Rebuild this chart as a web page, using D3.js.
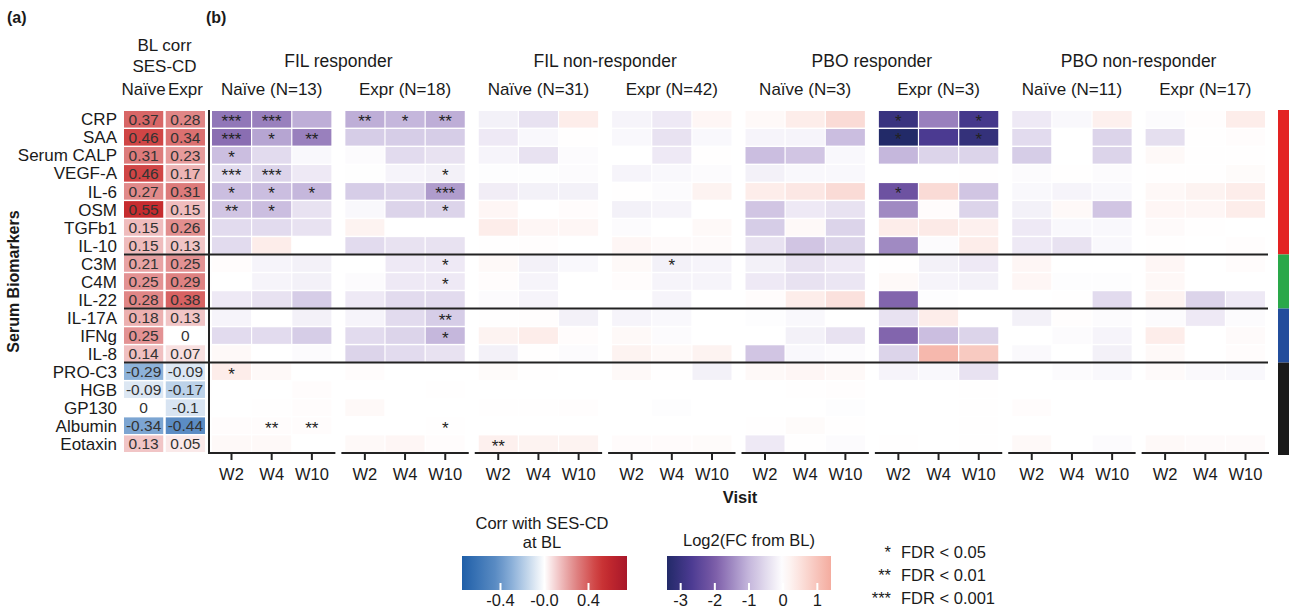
<!DOCTYPE html>
<html>
<head>
<meta charset="utf-8">
<script src="https://cdn.jsdelivr.net/npm/d3@7"></script>
<style>
  body { margin: 0; background: #fff; }
  text { font-family: "Liberation Sans", Arial, sans-serif; fill: #1a1a1a; }
</style>
</head>
<body>
<div id="chart"></div>
<script>
// ---- data ----
const biomarkers = ["CRP", "SAA", "Serum CALP", "VEGF-A", "IL-6", "OSM", "TGFb1", "IL-10",
  "C3M", "C4M", "IL-22", "IL-17A", "IFNg", "IL-8",
  "PRO-C3", "HGB", "GP130", "Albumin", "Eotaxin"]
const groupSizes = [8, 3, 3, 5]
const groupColors = ["#e32322", "#2aa84a", "#234d9c", "#1a1a1a"]

const corrNaive = [0.37, 0.46, 0.31, 0.46, 0.27, 0.55, 0.15, 0.15, 0.21, 0.25, 0.28, 0.18, 0.25, 0.14, -0.29, -0.09, 0, -0.34, 0.13]
const corrExpr = [0.28, 0.34, 0.23, 0.17, 0.31, 0.15, 0.26, 0.13, 0.25, 0.29, 0.38, 0.13, 0, 0.07, -0.09, -0.17, -0.1, -0.44, 0.05]

const visits = ["W2", "W4", "W10"]
const cohorts = ["FIL responder", "FIL non-responder", "PBO responder", "PBO non-responder"]
const subgroupLabels = ["Naïve (N=13)", "Expr (N=18)", "Naïve (N=31)", "Expr (N=42)",
  "Naïve (N=3)", "Expr (N=3)", "Naïve (N=11)", "Expr (N=17)"]

// log2 fold change from baseline, rows = biomarkers, cols = W2, W4, W10
const fcFilRespNaive = [[-1.7, -1.6, -1.1], [-1.8, -1.2, -1.6], [-0.9, -0.5, -0.1], [-0.5, -0.6, -0.3], [-0.9, -0.9, -1.0],
  [-0.8, -0.9, -0.4], [-0.5, -0.5, -0.4], [-0.5, 0.3, 0.0], [0.05, -0.15, -0.2], [0, -0.15, -0.2], [-0.3, -0.4, -0.7],
  [-0.15, 0, -0.2], [-0.5, -0.5, -0.7], [0.1, 0, -0.05], [0.3, 0.1, 0], [0, 0, 0.05], [0, 0.02, 0.05], [0.05, 0.05, 0.05], [0.1, 0.1, 0]]
const fcFilRespExpr = [[-1.1, -1.0, -1.1], [-0.7, -0.7, -0.7], [-0.05, -0.5, -0.4], [-0.02, -0.15, -0.2], [-0.7, -0.6, -1.3],
  [-0.1, -0.6, -0.6], [0.2, 0, 0], [-0.5, -0.4, -0.4], [0, -0.3, -0.3], [-0.05, -0.3, -0.3], [-0.3, -0.5, -0.5],
  [-0.15, -0.5, -0.7], [-0.5, -0.6, -1.0], [-0.6, -0.5, -0.4], [0.05, 0, 0], [0, 0, 0.02], [0.1, 0, 0], [0, 0, 0.02], [0.1, 0.15, 0.05]]
const fcFilNonNaive = [[-0.2, -0.4, 0.3], [-0.3, -0.1, 0.02], [-0.15, -0.4, -0.05], [-0.03, -0.03, -0.05], [-0.25, -0.2, -0.2],
  [0.15, 0, 0.05], [0.3, 0.15, 0.15], [0.02, 0.03, 0], [0.1, -0.2, -0.1], [0.05, -0.15, 0], [-0.05, -0.15, 0],
  [0.02, 0.03, -0.2], [0.2, 0.3, 0.05], [-0.2, 0.02, -0.05], [0.07, 0.02, 0], [0, 0, 0], [0.02, 0.02, 0.03], [0, 0, 0], [0.25, 0.2, 0.2]]
const fcFilNonExpr = [[-0.15, -0.3, 0.15], [-0.1, -0.4, -0.1], [0, -0.3, 0.02], [-0.15, -0.1, -0.05], [0.02, -0.05, 0.2],
  [-0.2, -0.15, 0], [-0.05, 0, 0.1], [0.15, 0.08, 0.08], [0.1, -0.2, -0.15], [0.05, -0.15, -0.15], [0, -0.15, 0],
  [-0.15, -0.1, 0], [0.1, -0.05, 0], [0.2, 0.1, 0.2], [0.1, 0.02, -0.2], [0, 0, 0], [0, -0.03, 0], [0, 0, 0], [0.06, 0.06, 0.07]]
const fcPboRespNaive = [[0.1, 0.3, 0.6], [-0.15, -0.15, -0.9], [-0.9, -0.8, -0.1], [-0.2, -0.1, -0.1], [0.3, 0.4, 0.6],
  [-0.8, -0.3, -0.4], [-0.7, 0.1, -0.6], [-0.4, -0.8, -0.6], [-0.2, -0.4, -0.3], [-0.3, -0.4, -0.35], [0.05, 0.3, 0.5],
  [-0.03, -0.1, 0], [0, -0.2, -0.4], [-0.8, -0.1, -0.05], [0.1, 0.15, 0.1], [0, 0.02, 0.03], [0, 0, -0.03], [0.02, 0.07, 0.02], [-0.3, 0.02, -0.05]]
const fcPboRespExpr = [[-3.0, -1.6, -2.8], [-3.4, -2.7, -3.1], [-1.0, -0.6, -0.6], [0, 0, 0.02], [-2.2, 0.6, -0.8],
  [-1.5, 0.05, -0.6], [0.3, 0.35, 0.25], [-1.5, -0.05, 0.3], [0.02, -0.2, -0.3], [0.1, -0.15, -0.2], [-1.9, -0.03, 0],
  [-0.4, 0.3, 0], [-1.9, -0.9, -0.6], [-0.6, 1.2, 0.9], [-0.15, -0.1, -0.4], [0, 0, 0.02], [0, 0, 0.02], [0, 0, 0.02], [0.02, 0, 0.02]]
const fcPboNonNaive = [[-0.3, -0.1, 0.25], [-0.5, 0, -0.6], [-0.7, 0, -0.6], [-0.05, 0.02, -0.05], [-0.1, -0.15, -0.1],
  [-0.2, 0.1, -0.8], [-0.3, -0.1, -0.1], [-0.3, -0.4, -0.1], [0.15, 0, 0], [0.15, -0.03, -0.03], [0, 0.02, -0.5],
  [-0.2, 0.03, -0.05], [0, -0.05, -0.15], [-0.08, 0, -0.2], [0, -0.05, -0.1], [0, 0, 0], [0.05, 0, 0], [0, 0, 0], [0.1, 0, -0.05]]
const fcPboNonExpr = [[-0.05, 0.03, 0.3], [-0.45, 0.02, 0.05], [0.1, 0.02, 0.02], [0.02, 0.02, 0.07], [0.12, 0.2, 0.3],
  [0.15, 0.15, 0.3], [0.08, 0.02, 0], [0.02, 0, 0.03], [0.15, 0, 0.05], [0.12, 0, 0], [0.2, -0.6, -0.3],
  [-0.05, -0.3, -0.05], [0.3, 0, 0.08], [0.1, 0, 0.05], [0.08, -0.08, -0.1], [0, 0, 0], [0, 0, 0], [0, 0, 0], [0.1, 0.08, 0.08]]

const panelValues = [fcFilRespNaive, fcFilRespExpr, fcFilNonNaive, fcFilNonExpr,
  fcPboRespNaive, fcPboRespExpr, fcPboNonNaive, fcPboNonExpr]

// significance: [panel index, biomarker, visit, number of stars]
const stars = [
  [0, "CRP", "W2", 3], [0, "CRP", "W4", 3], [0, "SAA", "W2", 3], [0, "SAA", "W4", 1], [0, "SAA", "W10", 2],
  [0, "Serum CALP", "W2", 1], [0, "VEGF-A", "W2", 3], [0, "VEGF-A", "W4", 3], [0, "IL-6", "W2", 1], [0, "IL-6", "W4", 1],
  [0, "IL-6", "W10", 1], [0, "OSM", "W2", 2], [0, "OSM", "W4", 1], [0, "PRO-C3", "W2", 1], [0, "Albumin", "W4", 2], [0, "Albumin", "W10", 2],
  [1, "CRP", "W2", 2], [1, "CRP", "W4", 1], [1, "CRP", "W10", 2], [1, "VEGF-A", "W10", 1], [1, "IL-6", "W10", 3],
  [1, "OSM", "W10", 1], [1, "C3M", "W10", 1], [1, "C4M", "W10", 1], [1, "IL-17A", "W10", 2], [1, "IFNg", "W10", 1], [1, "Albumin", "W10", 1],
  [2, "Eotaxin", "W2", 2],
  [3, "C3M", "W4", 1],
  [5, "CRP", "W2", 1], [5, "CRP", "W10", 1], [5, "SAA", "W2", 1], [5, "SAA", "W10", 1], [5, "IL-6", "W2", 1]
]

const corrTicks = [-0.4, 0, 0.4]
const corrTickLabels = ["-0.4", "-0.0", "0.4"]
const fcTicks = [-3, -2, -1, 0, 1]
const fdrLabels = [["*", "FDR < 0.05"], ["**", "FDR < 0.01"], ["***", "FDR < 0.001"]]

// ---- chart ----
const width = 1291
const height = 610
const svg = d3.select("#chart").append("svg")
  .attr("width", width)
  .attr("height", height)

const corrColor = d3.scaleLinear()
  .domain([-0.75, -0.44, -0.29, 0, 0.15, 0.28, 0.46, 0.55, 0.75])
  .range(["#1f5fa8", "#5b8cc4", "#8db2d9", "#ffffff", "#efbcbd", "#e08686", "#d04545", "#c62c2f", "#a8172a"])
const fcColor = d3.scaleLinear()
  .domain([-3.4, -2.7, -2, -1, 0, 1.4])
  .range(["#222a68", "#4b3a91", "#7b5ca8", "#c5b7dc", "#ffffff", "#f4ac9f"])
  .clamp(true)

const y = d3.scaleBand().domain(biomarkers).range([111, 452]).paddingInner(0.08)
const xCorr = d3.scaleBand().domain(["Naïve", "Expr"]).range([124, 205]).paddingInner(0.06)
const xPanel = d3.scaleBand().domain(d3.range(8)).range([212, 1265]).paddingInner(0.105)
const xVisit = d3.scaleBand().domain(visits).range([0, xPanel.bandwidth()]).paddingInner(0.03)

// labels (a), (b)
svg.append("text").text("(a)").attr("x", 7).attr("y", 23).style("font-size", "16px").style("font-weight", "bold")
svg.append("text").text("(b)").attr("x", 206).attr("y", 23).style("font-size", "16px").style("font-weight", "bold")

// left panel headers
const corrMid = (xCorr.range()[0] + xCorr.range()[1]) / 2
svg.append("text").text("BL corr").attr("x", corrMid).attr("y", 51).attr("text-anchor", "middle").style("font-size", "17px")
svg.append("text").text("SES-CD").attr("x", corrMid).attr("y", 72).attr("text-anchor", "middle").style("font-size", "17px")
xCorr.domain().forEach(d => {
  svg.append("text").text(d)
    .attr("x", xCorr(d) + xCorr.bandwidth() / 2).attr("y", 95)
    .attr("text-anchor", "middle").style("font-size", "17px")
})

// row labels
svg.append("g").selectAll("text").data(biomarkers).join("text")
  .text(d => d)
  .attr("x", 117)
  .attr("y", d => y(d) + y.bandwidth() / 2)
  .attr("dy", "0.36em")
  .attr("text-anchor", "end")
  .style("font-size", "17px")

svg.append("text").text("Serum Biomarkers")
  .attr("transform", "translate(19," + ((y.range()[0] + y.range()[1]) / 2) + ") rotate(-90)")
  .attr("text-anchor", "middle")
  .style("font-size", "16px").style("font-weight", "bold")

// correlation cells
const corrCells = []
biomarkers.forEach((b, i) => {
  corrCells.push({ b: b, col: "Naïve", v: corrNaive[i] })
  corrCells.push({ b: b, col: "Expr", v: corrExpr[i] })
})
const corrG = svg.append("g")
corrG.selectAll("rect").data(corrCells).join("rect")
  .attr("x", d => xCorr(d.col))
  .attr("y", d => y(d.b))
  .attr("width", xCorr.bandwidth())
  .attr("height", y.bandwidth())
  .attr("fill", d => corrColor(d.v))
corrG.selectAll("text").data(corrCells).join("text")
  .text(d => d.v)
  .attr("x", d => xCorr(d.col) + xCorr.bandwidth() / 2)
  .attr("y", d => y(d.b) + y.bandwidth() / 2)
  .attr("dy", "0.36em")
  .attr("text-anchor", "middle")
  .style("font-size", "15.5px")
  .style("fill", "#333")

// cohort titles
cohorts.forEach((c, i) => {
  const x0 = xPanel(i * 2)
  const x1 = xPanel(i * 2 + 1) + xPanel.bandwidth()
  svg.append("text").text(c).attr("x", (x0 + x1) / 2).attr("y", 67)
    .attr("text-anchor", "middle").style("font-size", "17.5px")
})

// heatmap panels
panelValues.forEach((vals, p) => {
  const g = svg.append("g").attr("transform", "translate(" + xPanel(p) + ",0)")
  g.append("text").text(subgroupLabels[p])
    .attr("x", xPanel.bandwidth() / 2).attr("y", 95)
    .attr("text-anchor", "middle").style("font-size", "17px")

  const cells = []
  biomarkers.forEach((b, i) => visits.forEach((v, j) => cells.push({ b: b, v: v, val: vals[i][j] })))
  g.selectAll("rect").data(cells).join("rect")
    .attr("x", d => xVisit(d.v))
    .attr("y", d => y(d.b))
    .attr("width", xVisit.bandwidth())
    .attr("height", y.bandwidth())
    .attr("fill", d => fcColor(d.val))

  g.selectAll("text.star").data(stars.filter(s => s[0] === p)).join("text")
    .attr("class", "star")
    .text(d => "*".repeat(d[3]))
    .attr("x", d => xVisit(d[2]) + xVisit.bandwidth() / 2)
    .attr("y", d => y(d[1]) + y.bandwidth() / 2 + 8)
    .attr("text-anchor", "middle")
    .style("font-size", "17px")
    .style("fill", "#222")

  const axis = d3.axisBottom(xVisit).tickSize(7).tickPadding(8).tickSizeOuter(0)
  const ag = g.append("g").attr("transform", "translate(0,453)").call(axis)
  ag.select(".domain").remove()
  ag.selectAll("line").attr("stroke", "#222").attr("stroke-width", 2)
  ag.selectAll("text").style("font-size", "16.5px").style("font-family", "'Liberation Sans', Arial, sans-serif").attr("fill", "#1a1a1a")
  g.append("line")
    .attr("x1", -4).attr("x2", xPanel.bandwidth() + 4)
    .attr("y1", 453).attr("y2", 453)
    .attr("stroke", "#222").attr("stroke-width", 2)
})

svg.append("text").text("Visit").attr("x", 740).attr("y", 503)
  .attr("text-anchor", "middle").style("font-size", "16.5px").style("font-weight", "bold")

// y axis line of the heatmap
svg.append("line").attr("x1", 209).attr("x2", 209).attr("y1", 110).attr("y2", 454)
  .attr("stroke", "#222").attr("stroke-width", 2)

// group separators and side colour bar
let start = 0
const gap = y.step() - y.bandwidth()
groupSizes.forEach((n, gi) => {
  const top = gi === 0 ? 110 : y(biomarkers[start]) - gap / 2
  const end = start + n - 1
  const bottom = gi === groupSizes.length - 1 ? 455 : y(biomarkers[end]) + y.bandwidth() + gap / 2
  svg.append("rect").attr("x", 1278).attr("y", top).attr("width", 11).attr("height", bottom - top)
    .attr("fill", groupColors[gi])
  if (gi > 0) {
    svg.append("line").attr("x1", 124).attr("x2", 1268).attr("y1", top).attr("y2", top)
      .attr("stroke", "#222").attr("stroke-width", 2)
  }
  start += n
})

// legends
const defs = svg.append("defs")
function gradient(id, scale, lo, hi) {
  const lg = defs.append("linearGradient").attr("id", id)
    .attr("x1", "0%").attr("x2", "100%").attr("y1", "0%").attr("y2", "0%")
  d3.range(0, 1.0001, 0.05).forEach(t => {
    lg.append("stop").attr("offset", (t * 100) + "%").attr("stop-color", scale(lo + t * (hi - lo)))
  })
}
gradient("corr-grad", corrColor, -0.75, 0.75)
gradient("fc-grad", fcColor, -3.4, 1.4)

const barTop = 556
const barH = 34

const corrX = d3.scaleLinear().domain([-0.75, 0.75]).range([462, 627])
svg.append("text").text("Corr with SES-CD").attr("x", 542).attr("y", 529)
  .attr("text-anchor", "middle").style("font-size", "16.5px")
svg.append("text").text("at BL").attr("x", 542).attr("y", 548)
  .attr("text-anchor", "middle").style("font-size", "16.5px")
svg.append("rect").attr("x", corrX(-0.75)).attr("y", barTop).attr("width", corrX(0.75) - corrX(-0.75)).attr("height", barH)
  .attr("fill", "url(#corr-grad)")
corrTicks.forEach((t, i) => {
  svg.append("line").attr("x1", corrX(t)).attr("x2", corrX(t)).attr("y1", barTop + barH - 7).attr("y2", barTop + barH)
    .attr("stroke", "#fff").attr("stroke-width", 2)
  svg.append("text").text(corrTickLabels[i]).attr("x", corrX(t)).attr("y", 606)
    .attr("text-anchor", "middle").style("font-size", "16.5px")
})

const fcX = d3.scaleLinear().domain([-3.4, 1.4]).range([667, 831])
svg.append("text").text("Log2(FC from BL)").attr("x", 749).attr("y", 546)
  .attr("text-anchor", "middle").style("font-size", "16.5px")
svg.append("rect").attr("x", fcX(-3.4)).attr("y", barTop).attr("width", fcX(1.4) - fcX(-3.4)).attr("height", barH)
  .attr("fill", "url(#fc-grad)")
fcTicks.forEach(t => {
  svg.append("line").attr("x1", fcX(t)).attr("x2", fcX(t)).attr("y1", barTop + barH - 7).attr("y2", barTop + barH)
    .attr("stroke", "#fff").attr("stroke-width", 2)
  svg.append("text").text(t).attr("x", fcX(t)).attr("y", 606)
    .attr("text-anchor", "middle").style("font-size", "16.5px")
})

fdrLabels.forEach((d, i) => {
  const yy = 558 + i * 23
  svg.append("text").text(d[0]).attr("x", 891).attr("y", yy).attr("text-anchor", "end").style("font-size", "16.5px")
  svg.append("text").text(d[1]).attr("x", 901).attr("y", yy).style("font-size", "16.5px")
})
</script>
</body>
</html>
